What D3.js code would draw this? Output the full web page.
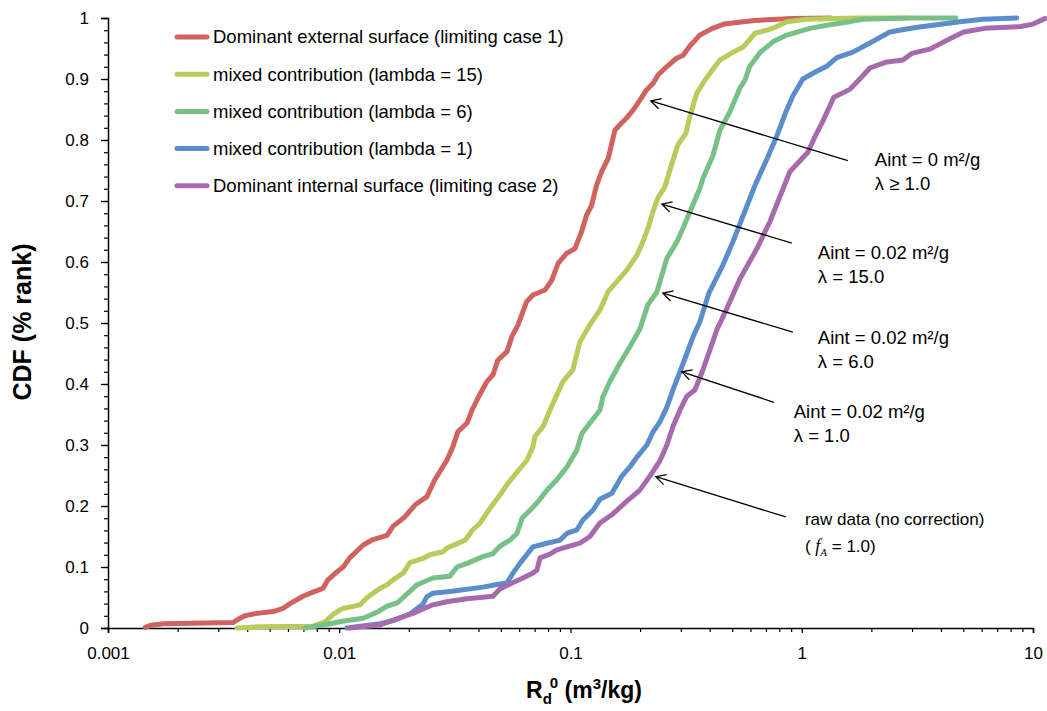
<!DOCTYPE html>
<html><head><meta charset="utf-8">
<script src="https://cdn.jsdelivr.net/npm/d3@7"></script>
<style>
body{margin:0;background:#fff}
svg{display:block}
text{font-family:Arial,"Liberation Sans",sans-serif;fill:#000}
</style>
</head><body>
<svg id="chart" width="1047" height="711"></svg>
<script>
// ---------- data ----------
const seriesNames = [
  "Dominant external surface (limiting case 1)",
  "mixed contribution (lambda = 15)",
  "mixed contribution (lambda = 6)",
  "mixed contribution (lambda = 1)",
  "Dominant internal surface (limiting case 2)"
];
const seriesColors = ["#d0625f", "#b8cc5c", "#77c187", "#5c8dcb", "#a66aad"];

const externalRd  = [0.00145,0.00152,0.00173,0.00347,0.00372,0.00391,0.00441,0.00517,0.00571,0.00612,0.00697,0.00785,0.0085,0.00894,0.00977,0.0104,0.0111,0.0127,0.0140,0.0161,0.0171,0.0192,0.0213,0.0239,0.0259,0.0292,0.0310,0.0326,0.0357,0.0375,0.0398,0.0435,0.0462,0.0485,0.0531,0.0558,0.0593,0.0646,0.0688,0.0775,0.0829,0.0885,0.0962,0.1045,0.1117,0.1174,0.1234,0.1297,0.1363,0.1456,0.1556,0.1635,0.1748,0.1838,0.1931,0.2133,0.2278,0.2394,0.2603,0.2875,0.3071,0.3282,0.3627,0.4116,0.4605,0.624,0.912,1.332];
const externalCdf = [0.001,0.004,0.007,0.009,0.016,0.020,0.024,0.027,0.032,0.040,0.052,0.060,0.065,0.079,0.092,0.100,0.115,0.136,0.145,0.152,0.167,0.182,0.202,0.215,0.243,0.275,0.297,0.322,0.336,0.357,0.377,0.404,0.415,0.439,0.453,0.478,0.497,0.535,0.546,0.554,0.570,0.598,0.614,0.622,0.650,0.677,0.693,0.726,0.748,0.770,0.816,0.825,0.836,0.846,0.857,0.882,0.893,0.907,0.920,0.934,0.939,0.954,0.972,0.983,0.990,0.996,0.999,1.0];

const lambda15Rd  = [0.00361,0.00454,0.00612,0.0077,0.00825,0.00867,0.00939,0.0101,0.0104,0.0123,0.0132,0.0150,0.0161,0.0171,0.0189,0.0202,0.0230,0.0247,0.0281,0.0292,0.0350,0.0378,0.0406,0.0448,0.0495,0.0536,0.0604,0.0648,0.0688,0.0702,0.0760,0.0815,0.0927,0.1024,0.1066,0.1098,0.1213,0.1340,0.1451,0.1587,0.1753,0.1937,0.2056,0.2161,0.2271,0.2387,0.2559,0.2717,0.2913,0.3155,0.3282,0.3519,0.3812,0.4128,0.4425,0.4985,0.5565,0.6026,0.627,0.707,0.781,0.862,1.052,1.73,2.82];
const lambda15Cdf = [0.000,0.002,0.0025,0.003,0.007,0.010,0.022,0.030,0.032,0.038,0.050,0.065,0.071,0.079,0.090,0.107,0.114,0.120,0.125,0.131,0.144,0.161,0.172,0.196,0.218,0.237,0.261,0.275,0.297,0.314,0.330,0.357,0.404,0.423,0.450,0.469,0.497,0.521,0.551,0.568,0.587,0.611,0.633,0.655,0.682,0.705,0.723,0.756,0.792,0.811,0.839,0.877,0.898,0.916,0.931,0.943,0.952,0.967,0.975,0.980,0.986,0.994,0.998,1.0,1.0];

const lambda6Rd  = [0.00711,0.00912,0.0106,0.0127,0.0136,0.0146,0.0161,0.0178,0.0202,0.0217,0.0254,0.0301,0.0323,0.0357,0.0418,0.0462,0.0495,0.0547,0.0587,0.0617,0.0668,0.0716,0.0791,0.0873,0.0965,0.1066,0.1120,0.1213,0.1340,0.1380,0.1480,0.1635,0.1806,0.1995,0.2161,0.2363,0.2611,0.2884,0.3062,0.3282,0.3627,0.3737,0.4128,0.4425,0.4887,0.540,0.5675,0.5965,0.659,0.750,0.862,1.084,1.323,1.614,1.837,2.847,4.637];
const lambda6Cdf = [0.000,0.007,0.012,0.016,0.021,0.026,0.036,0.041,0.060,0.071,0.082,0.085,0.100,0.106,0.117,0.122,0.134,0.144,0.155,0.180,0.193,0.205,0.226,0.243,0.264,0.292,0.319,0.336,0.357,0.379,0.404,0.434,0.461,0.490,0.530,0.551,0.606,0.633,0.655,0.682,0.721,0.737,0.774,0.816,0.846,0.885,0.898,0.921,0.943,0.961,0.972,0.983,0.989,0.994,0.998,1.0,1.0];

const lambda1Rd  = [0.0108,0.0150,0.0171,0.0202,0.0230,0.0239,0.0254,0.0301,0.0418,0.0495,0.0531,0.0564,0.0604,0.0688,0.0791,0.0900,0.0965,0.1066,0.1131,0.1250,0.1340,0.1510,0.1668,0.1806,0.1937,0.2139,0.2271,0.2435,0.2611,0.2771,0.2972,0.3186,0.3383,0.3627,0.3967,0.4559,0.5036,0.5565,0.627,0.707,0.781,0.854,0.915,1.011,1.139,1.284,1.418,1.663,1.970,2.404,3.053,3.839,4.826,6.067,8.511];
const lambda1Cdf = [0.000,0.007,0.012,0.023,0.039,0.051,0.057,0.060,0.067,0.072,0.074,0.090,0.106,0.133,0.139,0.144,0.155,0.161,0.177,0.193,0.211,0.221,0.249,0.264,0.280,0.300,0.321,0.338,0.362,0.390,0.420,0.450,0.477,0.502,0.549,0.595,0.633,0.675,0.725,0.769,0.807,0.846,0.872,0.900,0.911,0.921,0.935,0.944,0.959,0.977,0.984,0.989,0.994,0.998,1.0];

const internalRd  = [0.0111,0.0150,0.0171,0.0208,0.0254,0.0292,0.0357,0.0462,0.0495,0.0547,0.0623,0.0688,0.0716,0.0738,0.0815,0.0873,0.0965,0.1098,0.1213,0.1340,0.1525,0.1753,0.1995,0.2204,0.2435,0.2611,0.2771,0.2972,0.3186,0.3449,0.3737,0.4007,0.4296,0.4745,0.540,0.640,0.728,0.804,0.888,1.063,1.139,1.234,1.376,1.614,1.783,1.970,2.333,2.736,2.992,3.579,4.368,5.022,6.188,8.858,10.0,11.25];
const internalCdf = [0.000,0.005,0.013,0.024,0.038,0.043,0.048,0.052,0.064,0.072,0.082,0.090,0.095,0.115,0.121,0.128,0.133,0.139,0.150,0.172,0.187,0.208,0.226,0.249,0.274,0.300,0.330,0.357,0.380,0.390,0.423,0.456,0.489,0.524,0.572,0.622,0.666,0.707,0.748,0.780,0.805,0.831,0.870,0.883,0.900,0.918,0.928,0.931,0.942,0.949,0.966,0.977,0.983,0.986,0.990,0.999];

const xTickValues = [0.001, 0.01, 0.1, 1, 10];
const xTickLabels = ["0.001", "0.01", "0.1", "1", "10"];
const yTickValues = [0, 0.1, 0.2, 0.3, 0.4, 0.5, 0.6, 0.7, 0.8, 0.9, 1];
const yTickLabels = ["0", "0.1", "0.2", "0.3", "0.4", "0.5", "0.6", "0.7", "0.8", "0.9", "1"];

// annotations: arrow tip and tail in data units
const annotTipRd   = [0.2226, 0.2484, 0.2509, 0.3031, 0.2340];
const annotTipCdf  = [0.864, 0.695, 0.549, 0.420, 0.248];
const annotTailRd  = [1.582, 0.906, 0.915, 0.757, 0.854];
const annotTailCdf = [0.766, 0.631, 0.485, 0.370, 0.182];
const annotLine1 = ["Aint = 0 m²/g", "Aint = 0.02 m²/g", "Aint = 0.02 m²/g", "Aint = 0.02 m²/g", "raw data (no correction)"];
const annotLine2 = ["λ ≥ 1.0", "λ = 15.0", "λ = 6.0", "λ = 1.0", null];

// ---------- chart ----------
const svg = d3.select("#chart");
const x = d3.scaleLog().domain([0.001, 10]).range([108, 1033]);
const y = d3.scaleLinear().domain([0, 1]).range([628, 18]);

const series = [
  {rd: externalRd, cdf: externalCdf},
  {rd: lambda15Rd, cdf: lambda15Cdf},
  {rd: lambda6Rd, cdf: lambda6Cdf},
  {rd: lambda1Rd, cdf: lambda1Cdf},
  {rd: internalRd, cdf: internalCdf}
].map((s, i) => ({name: seriesNames[i], color: seriesColors[i], pts: s.rd.map((v, j) => [v, s.cdf[j]])}));

// axes
const yMinor = d3.range(0, 1.0001, 0.02);
svg.append("g").attr("transform", "translate(108,0)")
  .call(d3.axisLeft(y).tickValues(yMinor).tickSize(4).tickFormat(""))
  .call(g => g.select(".domain").remove())
  .selectAll("line").attr("stroke", "#000").attr("stroke-width", 1.2);
const yAx = svg.append("g").attr("transform", "translate(108,0)")
  .call(d3.axisLeft(y).tickValues(yTickValues).tickSize(7).tickPadding(12)
    .tickFormat((d, i) => yTickLabels[i]));
yAx.selectAll("line").attr("stroke", "#000").attr("stroke-width", 1.3);
yAx.select(".domain").attr("stroke", "#000").attr("stroke-width", 1.5);
yAx.selectAll("text").attr("font-size", 17).attr("font-family", "Arial, 'Liberation Sans', sans-serif");

const xMinor = [];
[0.001, 0.01, 0.1, 1].forEach(dec => { for (let k = 2; k <= 9; k++) xMinor.push(dec * k); });
svg.append("g").attr("transform", "translate(0,628)")
  .call(d3.axisBottom(x).tickValues(xMinor).tickSize(4).tickFormat(""))
  .call(g => g.select(".domain").remove())
  .selectAll("line").attr("stroke", "#000").attr("stroke-width", 1.2);
const xAx = svg.append("g").attr("transform", "translate(0,628)")
  .call(d3.axisBottom(x).tickValues(xTickValues).tickSize(5).tickPadding(14)
    .tickFormat((d, i) => xTickLabels[i]));
xAx.selectAll("line").attr("stroke", "#000").attr("stroke-width", 1.3);
xAx.select(".domain").attr("stroke", "#000").attr("stroke-width", 1.5);
xAx.selectAll("text").attr("font-size", 17).attr("font-family", "Arial, 'Liberation Sans', sans-serif");

// axis titles
svg.append("text")
  .attr("transform", "translate(31,322) rotate(-90)")
  .attr("text-anchor", "middle")
  .attr("font-size", 25).attr("font-weight", "bold")
  .text("CDF (% rank)");

const xt = svg.append("text").attr("x", 584).attr("y", 698)
  .attr("text-anchor", "middle").attr("font-size", 23).attr("font-weight", "bold");
xt.append("tspan").text("R");
xt.append("tspan").attr("font-size", 15).attr("dy", 6).text("d");
xt.append("tspan").attr("font-size", 15).attr("dx", -2).attr("dy", -16).text("0");
xt.append("tspan").attr("dy", 10).text(" (m");
xt.append("tspan").attr("font-size", 15).attr("dy", -9).text("3");
xt.append("tspan").attr("dy", 9).text("/kg)");

// lines
const line = d3.line().x(d => x(d[0])).y(d => y(d[1]));
svg.append("g").selectAll("path").data(series).join("path")
  .attr("d", d => line(d.pts))
  .attr("fill", "none")
  .attr("stroke", d => d.color)
  .attr("stroke-width", 5)
  .attr("stroke-linejoin", "round")
  .attr("stroke-linecap", "round");

// legend
const leg = svg.append("g");
series.forEach((s, i) => {
  const ly = 37 + i * 37.2;
  leg.append("line").attr("x1", 177).attr("x2", 207).attr("y1", ly).attr("y2", ly)
    .attr("stroke", s.color).attr("stroke-width", 5).attr("stroke-linecap", "round");
  leg.append("text").attr("x", 213).attr("y", ly).attr("dy", "0.35em")
    .attr("font-size", 18.5).text(s.name);
});

// annotations
const textOffsets = [[27, 5], [26, 16], [25, 12], [20, 16], [19, 8]];
annotLine1.forEach((t, i) => {
  const tx = x(annotTipRd[i]), ty = y(annotTipCdf[i]);
  const sx = x(annotTailRd[i]), sy = y(annotTailCdf[i]);
  svg.append("line").attr("x1", sx).attr("y1", sy).attr("x2", tx).attr("y2", ty)
    .attr("stroke", "#000").attr("stroke-width", 1.3);
  const ang = Math.atan2(sy - ty, sx - tx);
  const L = 11, a = 0.5;
  const p1 = [tx + L * Math.cos(ang + a), ty + L * Math.sin(ang + a)];
  const p2 = [tx + L * Math.cos(ang - a), ty + L * Math.sin(ang - a)];
  svg.append("path").attr("d", `M${p1[0]},${p1[1]}L${tx},${ty}L${p2[0]},${p2[1]}`)
    .attr("fill", "none").attr("stroke", "#000").attr("stroke-width", 1.3);
  const ox = sx + textOffsets[i][0], oy = sy + textOffsets[i][1];
  if (i < 4) {
    svg.append("text").attr("x", ox).attr("y", oy).attr("font-size", 18.5).text(t);
    svg.append("text").attr("x", ox).attr("y", oy + 24).attr("font-size", 18.5).text(annotLine2[i]);
  } else {
    svg.append("text").attr("x", ox).attr("y", oy).attr("font-size", 17)
      .attr("font-family", "Lato, 'Open Sans', sans-serif").text(t);
    const t2 = svg.append("text").attr("x", ox).attr("y", oy + 27).attr("font-size", 17)
      .attr("font-family", "Lato, 'Open Sans', sans-serif");
    t2.append("tspan").text("( ");
    t2.append("tspan").attr("font-family", "'Liberation Serif', serif").attr("font-style", "italic").attr("font-size", 18).text("f");
    t2.append("tspan").attr("font-family", "'Liberation Serif', serif").attr("font-style", "italic").attr("font-size", 11).attr("dy", 4).text("A");
    t2.append("tspan").attr("dy", -4).text(" = 1.0)");
  }
});
</script>
</body></html>
